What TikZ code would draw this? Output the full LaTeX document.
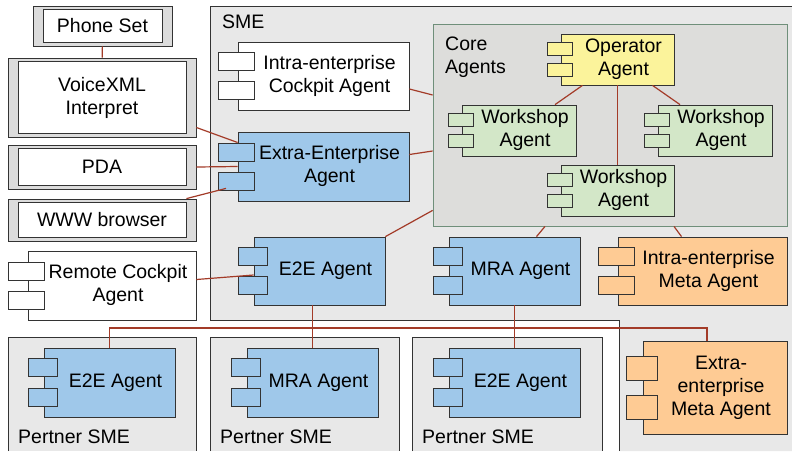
\documentclass[tikz,border=0pt]{standalone}
\usepackage{fontspec}
\setmainfont{Liberation Sans}
\usetikzlibrary{positioning,calc}

\definecolor{smegray}{HTML}{E8E8E8}
\definecolor{coregray}{HTML}{DDDDDB}
\definecolor{coreline}{HTML}{6F8F7A}
\definecolor{devgray}{HTML}{DCDCDC}
\definecolor{linegray}{HTML}{333333}
\definecolor{wirered}{HTML}{A33B28}
\definecolor{agentblue}{HTML}{9FC8EA}
\definecolor{opyellow}{HTML}{FBF39B}
\definecolor{wsgreen}{HTML}{D3E7C8}
\definecolor{metaorange}{HTML}{FECB94}

\begin{document}
\begin{tikzpicture}[x=1pt, y=-1pt]
	\tikzstyle{agent} = [draw=linegray, rectangle, line width=0.8pt, inner sep=0pt, font={\fontsize{19.5}{23}\selectfont}];
	\tikzstyle{port} = [draw=linegray, rectangle, line width=0.8pt, inner sep=0pt];
	\tikzstyle{group} = [draw=coreline, fill=coregray, rectangle, line width=0.8pt, inner sep=0pt];
	\tikzstyle{device} = [draw=linegray, fill=devgray, rectangle, line width=0.8pt, inner sep=0pt];
	\tikzstyle{screen} = [draw=linegray, fill=white, rectangle, line width=0.8pt, align=center, inner sep=0pt, font={\fontsize{19.5}{23}\selectfont}];
	\tikzstyle{info} = [inner sep=0pt, align=left, font={\fontsize{19.5}{23}\selectfont}];
	\tikzstyle{wire} = [draw=wirered, line width=1.2pt];
	\tikzstyle{bus} = [draw=wirered, line width=1.7pt];

	% agent text sits right of the ports
	\def\agentname#1{\begin{tabular}{@{\hspace{12pt}}c@{}}#1\end{tabular}}

	\useasboundingbox (0,0) rectangle (792,451);

	% SME and partners
	\fill[smegray] (210,6) -- (792,6) -- (792,451) -- (619,451) -- (619,320) -- (210,320) -- cycle;
	\draw[linegray, line width=0.8pt] (792,6) -- (210,6) -- (210,320) -- (619,320) -- (619,451);
	\node[info, anchor=base west] (smeLabel) at (222,28) {SME};

	\foreach \l/\r [count=\i] in {8/196, 210/399, 412/602} {
		\filldraw[fill=smegray, draw=linegray, line width=0.8pt] (\l,451) -- (\l,337) -- (\r,337) -- (\r,451);
		\node[info, anchor=base west] (partnerLabel\i) at (\l+10,443) {Pertner SME};
	}

	\node[group, minimum width=354, minimum height=202] (core) at (610,125) {};
	\node[info, anchor=north west] (coreLabel) at (445,37) {Core\\Agents};

	% devices
	\foreach \n/\x/\y/\w/\h/\t in {phone/102.5/26/139/40/{Phone Set}, voice/102/97.5/188/79/{VoiceXML\\Interpret}, pda/102/167/188/44/PDA, www/102/220/188/42/{WWW browser}} {
		\node[device, minimum width=\w, minimum height=\h] (\n Frame) at (\x,\y) {};
		\node[screen, minimum width=\w-20, minimum height=\h-7] (\n) at (\n Frame) {\t};
	}

	% agents
	\node[agent, fill=white, minimum width=171, minimum height=68] (cockpit) at (323.5,76) {\agentname{Intra-enterprise\\Cockpit Agent}};
	\node[agent, fill=agentblue, minimum width=171, minimum height=69] (extra) at (323.5,166.5) {\agentname{Extra-Enterprise\\Agent}};
	\node[agent, fill=agentblue, minimum width=131, minimum height=68] (e2e) at (319.5,271) {\agentname{E2E Agent}};
	\node[agent, fill=agentblue, minimum width=131, minimum height=68] (mra) at (514.5,271) {\agentname{MRA Agent}};
	\node[agent, fill=metaorange, minimum width=169, minimum height=68] (intraMeta) at (702.5,271) {\agentname{Intra-enterprise\\Meta Agent}};
	\node[agent, fill=white, minimum width=168, minimum height=69] (remote) at (112,285.5) {\agentname{Remote Cockpit\\Agent}};

	\node[agent, fill=opyellow, minimum width=113, minimum height=51] (operator) at (617.5,59.5) {\agentname{Operator\\Agent}};
	\node[agent, fill=wsgreen, minimum width=114, minimum height=51] (wsLeft) at (519,130.5) {\agentname{Workshop\\Agent}};
	\node[agent, fill=wsgreen, minimum width=114, minimum height=51] (wsRight) at (715,130.5) {\agentname{Workshop\\Agent}};
	\node[agent, fill=wsgreen, minimum width=113, minimum height=51] (wsBottom) at (617.5,190.5) {\agentname{Workshop\\Agent}};

	\node[agent, fill=agentblue, minimum width=131, minimum height=69] (pE2Ea) at (109.5,382.5) {\agentname{E2E Agent}};
	\node[agent, fill=agentblue, minimum width=131, minimum height=69] (pMra) at (312.5,382.5) {\agentname{MRA Agent}};
	\node[agent, fill=agentblue, minimum width=131, minimum height=69] (pE2Eb) at (514.5,382.5) {\agentname{E2E Agent}};
	\node[agent, fill=metaorange, minimum width=144, minimum height=93] (extraMeta) at (715,387.5) {\agentname{Extra-\\enterprise\\Meta Agent}};

	% ports: name, colour, out, in, height, offset
	\def\ports#1#2#3#4#5#6{
		\foreach \s/\i in {-1/1, 1/2} {
			\node[port, fill=#2, minimum width=#3+#4, minimum height=#5, anchor=west] (#1-p\i) at ($(#1.west)+(-#3,\s*#6)$) {};
		}
	}

	\foreach \n/\c in {cockpit/white, extra/agentblue, intraMeta/metaorange, remote/white}
		{\ports{\n}{\c}{20}{16}{18}{14.5}}
	\foreach \n/\c in {e2e/agentblue, mra/agentblue, pE2Ea/agentblue, pMra/agentblue, pE2Eb/agentblue}
		{\ports{\n}{\c}{16}{13}{18}{14.8}}
	\foreach \n/\c in {operator/opyellow, wsLeft/wsgreen, wsRight/wsgreen, wsBottom/wsgreen}
		{\ports{\n}{\c}{14}{11}{13}{10.5}}
	\ports{extraMeta}{metaorange}{17}{14}{24}{19.5}

	% links
	\draw[wire] (phoneFrame) -- (voiceFrame);
	\draw[wire] ([yshift=-30pt]voiceFrame.east) -- ([yshift=24pt]extra.west);
	\draw[wire] (pdaFrame.east) -- (extra.west);
	\draw[wire] ([xshift=-10pt]wwwFrame.north east) -- ([xshift=-10pt,yshift=2pt]extra-p2.south);
	\draw[wire] ([yshift=6pt]remote.east) -- ([yshift=-4pt]e2e.west);
	\draw[wire] ([yshift=-13pt]cockpit.east) -- ([yshift=30pt]core.west);
	\draw[wire] ([yshift=12pt]extra.east) -- ([yshift=-26pt]core.west);
	\draw[wire] (e2e.north east) -- ([yshift=16pt]core.south west);
	\draw[wire] ([xshift=-35pt]operator.south) -- ([xshift=36pt]wsLeft.north);
	\draw[wire] (operator) -- (wsBottom);
	\draw[wire] ([xshift=35pt]operator.south) -- ([xshift=-35pt]wsRight.north);
	\draw[wire] ([xshift=-65pt]core.south) -- ([xshift=22pt]mra.north);
	\draw[wire] ([xshift=64pt]core.south) -- ([xshift=-21pt]intraMeta.north);

	\coordinate (bus) at (400,328);
	\draw[bus] (pE2Ea.north) |- (bus) -| ([xshift=-8pt]extraMeta.north);
	\draw[bus] (e2e.south -| pMra.north) -- (pMra.north);
	\draw[bus] (mra) -- (pE2Eb);
\end{tikzpicture}
\end{document}
